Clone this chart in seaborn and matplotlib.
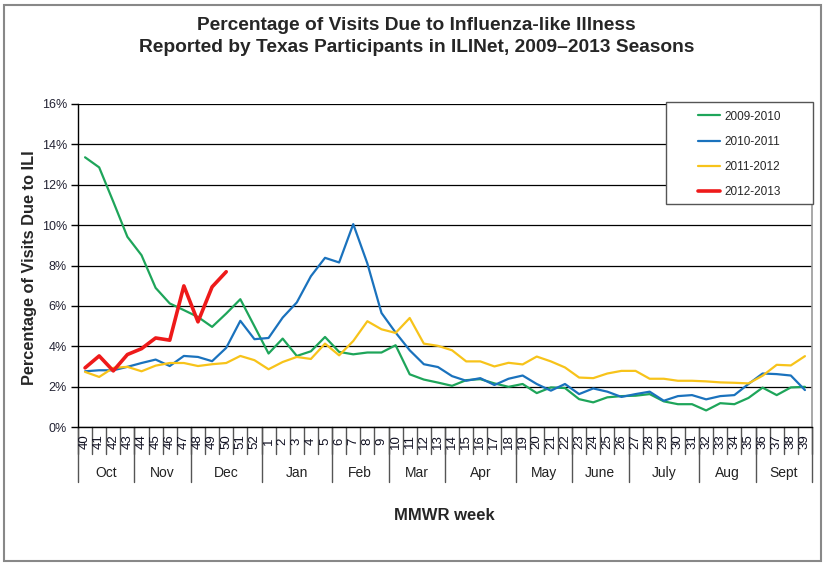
import numpy as np
import pandas as pd
import matplotlib
matplotlib.use("Agg")
import matplotlib.pyplot as plt
import matplotlib.transforms as mtransforms
from matplotlib.patches import Rectangle
import seaborn as sns

# MMWR weeks, Oct -> Sept
weeks = [str(w) for w in list(range(40, 53)) + list(range(1, 40))]
months = ["Oct", "Nov", "Dec", "Jan", "Feb", "Mar", "Apr", "May", "June", "July", "Aug", "Sept"]
month_weeks = [4, 4, 5, 5, 4, 4, 5, 4, 4, 5, 4, 4]

seasons = ["2009-2010", "2010-2011", "2011-2012", "2012-2013"]
colors = ["#1ea55a", "#1a72bd", "#f7c31a", "#ee1a1a"]
widths = [1.6, 1.6, 1.6, 2.6]

ili_0910 = [13.36, 12.86, 11.16, 9.42, 8.51, 6.89, 6.12, 5.79, 5.45, 4.96, 5.62, 6.33, 4.99,
            3.64, 4.38, 3.52, 3.75, 4.46, 3.72, 3.60, 3.69, 3.69, 4.05, 2.61, 2.35, 2.20, 2.04,
            2.32, 2.37, 2.16, 1.99, 2.13, 1.68, 1.96, 1.93, 1.38, 1.22, 1.47, 1.53, 1.55, 1.63,
            1.27, 1.13, 1.13, 0.82, 1.18, 1.13, 1.44, 1.95, 1.58, 1.96, 1.99]
ili_1011 = [2.76, 2.81, 2.81, 2.98, 3.17, 3.34, 3.02, 3.52, 3.47, 3.26, 3.92, 5.26, 4.35,
            4.41, 5.42, 6.17, 7.47, 8.38, 8.15, 10.05, 8.10, 5.65, 4.68, 3.80, 3.11, 2.97, 2.52,
            2.29, 2.42, 2.08, 2.39, 2.55, 2.13, 1.80, 2.13, 1.63, 1.91, 1.75, 1.49, 1.63, 1.75,
            1.30, 1.53, 1.58, 1.37, 1.53, 1.58, 2.13, 2.65, 2.62, 2.55, 1.83]
ili_1112 = [2.73, 2.48, 2.93, 2.98, 2.76, 3.04, 3.17, 3.17, 3.02, 3.11, 3.17, 3.52, 3.31,
            2.86, 3.22, 3.47, 3.37, 4.13, 3.55, 4.26, 5.24, 4.84, 4.66, 5.40, 4.13, 4.02, 3.80,
            3.25, 3.25, 3.00, 3.18, 3.10, 3.49, 3.25, 2.95, 2.45, 2.42, 2.65, 2.78, 2.78, 2.39,
            2.39, 2.29, 2.29, 2.26, 2.21, 2.19, 2.16, 2.54, 3.08, 3.05, 3.51]
ili_1213 = [2.93, 3.52, 2.78, 3.59, 3.88, 4.41, 4.30, 6.99, 5.21, 6.94, 7.69] + [np.nan] * 41

series = [ili_0910, ili_1011, ili_1112, ili_1213]

sns.set_style("white")
plt.rcParams["font.family"] = ["Liberation Sans", "DejaVu Sans"]

W, H = 826, 566
fig = plt.figure(figsize=(W / 100, H / 100), dpi=100)
ax = fig.add_axes([78 / W, 1 - 427 / H, (812 - 78) / W, (427 - 104) / H])

x = np.arange(len(weeks))
for name, vals, c, lw in zip(seasons, series, colors, widths):
    df = pd.DataFrame({"week": x, "ili": vals}).dropna()
    sns.lineplot(data=df, x="week", y="ili", color=c, linewidth=lw, label=name, ax=ax, legend=False)

ax.set_xlim(-0.5, len(weeks) - 0.5)
ax.set_ylim(0, 16)
ax.set_yticks(range(0, 17, 2))
ax.set_yticklabels([f"{v}%" for v in range(0, 17, 2)], fontsize=9, color="#222233")
ax.set_xticks([])
ax.set_xlabel("")
ax.set_ylabel("")
ax.tick_params(axis="y", left=True, length=5, width=1, color="black", pad=3)
ax.grid(axis="y", color="black", linewidth=0.9)
ax.set_axisbelow(True)
for s in ["left", "bottom"]:
    ax.spines[s].set_color("black")
    ax.spines[s].set_linewidth(1)
ax.spines["top"].set_visible(False)
ax.spines["right"].set_color("#999999")
ax.spines["right"].set_linewidth(1.2)

# category axis: week labels, separators, month groups
trans = mtransforms.blended_transform_factory(ax.transData, ax.transAxes)
ph = 427 - 104
for i, w in enumerate(weeks):
    ax.text(i, -(441.5 - 427) / ph, w, transform=trans, rotation=90, ha="center", va="center",
            fontsize=9.5, color="#111122")
for i in range(len(weeks) + 1):
    ax.plot([i - 0.5, i - 0.5], [0, -(454 - 427) / ph], transform=trans, color="#555555",
            lw=1, clip_on=False)
start = 0
ax.plot([-0.5, -0.5], [0, -(482 - 427) / ph], transform=trans, color="#555555", lw=1, clip_on=False)
for m, n in zip(months, month_weeks):
    end = start + n
    ax.plot([end - 0.5, end - 0.5], [0, -(482 - 427) / ph], transform=trans, color="#555555",
            lw=1, clip_on=False)
    ax.text((start + end - 1) / 2, -(473 - 427) / ph, m, transform=trans, ha="center", va="center",
            fontsize=10, color="#222222")
    start = end

fig.text(444 / W, 1 - 516 / H, "MMWR week", ha="center", va="center", fontsize=12, fontweight="bold")
fig.text(30 / W, 1 - 267.5 / H, "Percentage of Visits Due to ILI", rotation=90, ha="center",
         va="center", fontsize=11.8, fontweight="bold")
fig.text(416.5 / W, 1 - 25 / H, "Percentage of Visits Due to Influenza-like Illness",
         ha="center", va="center", fontsize=13.8, fontweight="bold")
fig.text(416.5 / W, 1 - 48 / H, "Reported by Texas Participants in ILINet, 2009\u20132013 Seasons",
         ha="center", va="center", fontsize=13.8, fontweight="bold")

# legend box
fig.add_artist(Rectangle((666 / W, 1 - 204 / H), (813 - 666) / W, (204 - 102) / H,
                         transform=fig.transFigure, facecolor="white", edgecolor="#555555",
                         lw=1, zorder=3))
handles, labels = ax.get_legend_handles_labels()
fig.legend(handles, labels, loc="upper left", bbox_to_anchor=(698 / W, 1 - 110.5 / H),
           frameon=False, borderpad=0, borderaxespad=0, handlelength=1.9, handletextpad=0.3,
           labelspacing=1.12, fontsize=8.5)

# outer border
fig.add_artist(Rectangle((4 / W, 5 / H), (821 - 4) / W, (561 - 5) / H, transform=fig.transFigure,
                         fill=False, edgecolor="#888888", lw=1.5, zorder=2))

fig.savefig("out.png", dpi=100)
